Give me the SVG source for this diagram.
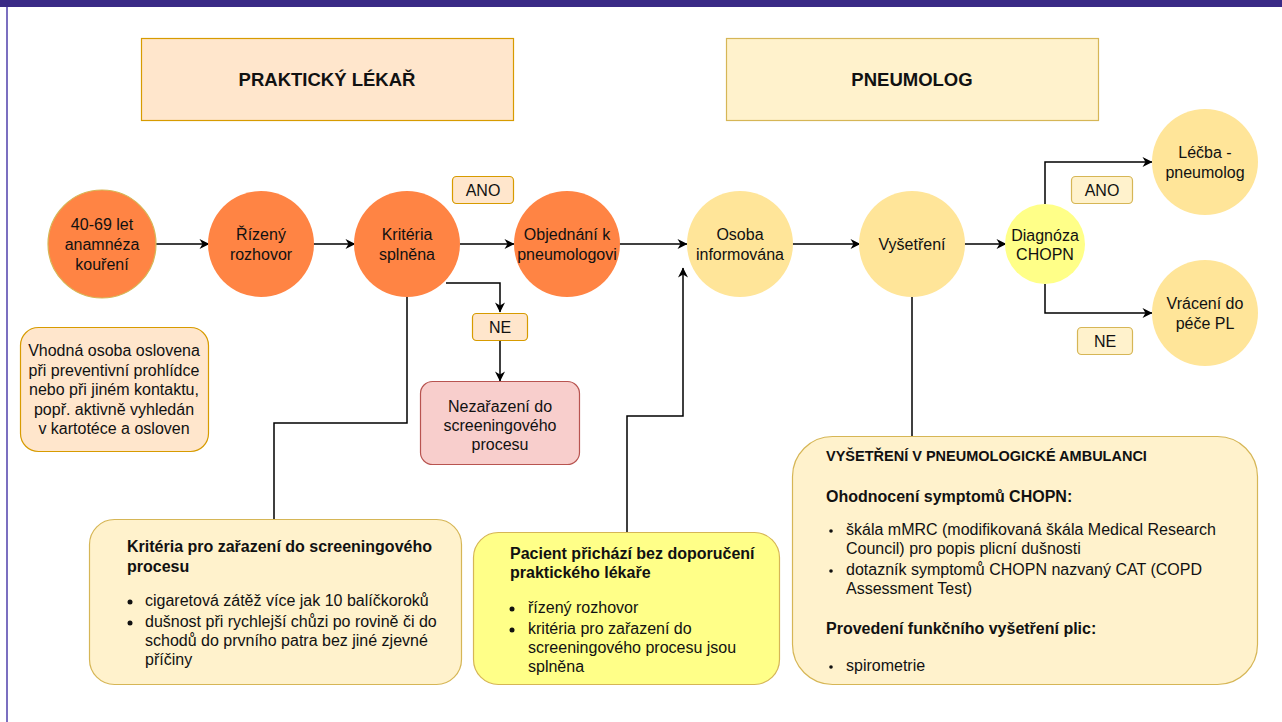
<svg xmlns="http://www.w3.org/2000/svg" width="1282" height="722" viewBox="0 0 1282 722">
<style>
text{font-family:"Liberation Sans",Arial,sans-serif;font-size:16px;fill:#111}
.c{text-anchor:middle}
.b{font-weight:bold}
.h{font-size:18.5px;font-weight:bold}
.or{fill:#ff8444}
.ye{fill:#ffe599}
.conn{fill:none;stroke:#000;stroke-width:1.5}
.lab1{fill:#ffe6cc;stroke:#d79b00;stroke-width:1.2}
.lab2{fill:#fff2cc;stroke:#d6b656;stroke-width:1.2}
</style>
<defs>
<marker id="ar" viewBox="0 0 10 10" refX="9.5" refY="5" markerWidth="11" markerHeight="10" markerUnits="userSpaceOnUse" orient="auto">
<path d="M0,0 L10,5 L0,10 L3,5 z" fill="#000"/>
</marker>
</defs>
<rect x="0" y="0" width="1282" height="722" fill="#fff"/>
<rect x="0" y="0" width="1282" height="7" fill="#3a2a86"/>
<line x1="7" y1="7" x2="7" y2="722" stroke="#7b6fc0" stroke-width="2"/>

<g id="hdr-pl">
<rect x="141.5" y="38.5" width="372" height="82" fill="#ffe6cc" stroke="#d79b00" stroke-width="1.2"/>
<text class="c h" x="327" y="86">PRAKTICKÝ LÉKAŘ</text>
</g>
<g id="hdr-pneumolog">
<rect x="726.5" y="38.5" width="372" height="82" fill="#fff2cc" stroke="#d6b656" stroke-width="1.2"/>
<text class="c h" x="912" y="86">PNEUMOLOG</text>
</g>

<g id="connectors">
<line class="conn" x1="156" y1="244" x2="209" y2="244" marker-end="url(#ar)"/>
<line class="conn" x1="313" y1="244" x2="355" y2="244" marker-end="url(#ar)"/>
<line class="conn" x1="460" y1="244" x2="514" y2="244" marker-end="url(#ar)"/>
<line class="conn" x1="619" y1="244" x2="687" y2="244" marker-end="url(#ar)"/>
<line class="conn" x1="792" y1="244" x2="860" y2="244" marker-end="url(#ar)"/>
<line class="conn" x1="964" y1="244" x2="1006" y2="244" marker-end="url(#ar)"/>
<polyline class="conn" points="1045,204 1045,162 1152,162" marker-end="url(#ar)"/>
<polyline class="conn" points="1045,284 1045,313 1152,313" marker-end="url(#ar)"/>
<polyline class="conn" points="446,283 500,283 500,312" marker-end="url(#ar)"/>
<line class="conn" x1="500" y1="340" x2="500" y2="381" marker-end="url(#ar)"/>
<polyline class="conn" points="407,296 407,423 274,423 274,519"/>
<polyline class="conn" points="627,532 627,416 683,416 683,268" marker-end="url(#ar)"/>
<line class="conn" x1="912" y1="296" x2="912" y2="436"/>
</g>

<g id="n-vek">
<circle cx="102" cy="244" r="54" class="or" stroke="#d6b656" stroke-width="1.2"/>
<text class="c" x="102" y="230">40-69 let</text>
<text class="c" x="102" y="250">anamnéza</text>
<text class="c" x="102" y="270">kouření</text>
</g>
<g id="n-rozhovor">
<circle cx="261" cy="244" r="53" class="or"/>
<text class="c" x="261" y="240">Řízený</text>
<text class="c" x="261" y="260">rozhovor</text>
</g>
<g id="n-kriteria">
<circle cx="407" cy="244" r="53" class="or"/>
<text class="c" x="407" y="240">Kritéria</text>
<text class="c" x="407" y="260">splněna</text>
</g>
<g id="n-objednani">
<circle cx="567" cy="244" r="53" class="or"/>
<text class="c" x="567" y="240">Objednání k</text>
<text class="c" x="567" y="260">pneumologovi</text>
</g>
<g id="n-osoba">
<circle cx="740" cy="244" r="53" class="ye"/>
<text class="c" x="740" y="240">Osoba</text>
<text class="c" x="740" y="260">informována</text>
</g>
<g id="n-vysetreni">
<circle cx="912" cy="244" r="53" class="ye"/>
<text class="c" x="912" y="250">Vyšetření</text>
</g>
<g id="n-diagnoza">
<circle cx="1045" cy="244" r="40" fill="#ffff88"/>
<text class="c" x="1045" y="241">Diagnóza</text>
<text class="c" x="1045" y="260">CHOPN</text>
</g>
<g id="n-lecba">
<circle cx="1205" cy="162" r="53" class="ye"/>
<text class="c" x="1205" y="158">Léčba -</text>
<text class="c" x="1205" y="178">pneumolog</text>
</g>
<g id="n-vraceni">
<circle cx="1205" cy="313" r="53" class="ye"/>
<text class="c" x="1205" y="309">Vrácení do</text>
<text class="c" x="1205" y="329">péče PL</text>
</g>

<g id="l-ano1">
<rect x="452.5" y="176.5" width="61" height="27" rx="4" class="lab1"/>
<text class="c" x="483" y="196">ANO</text>
</g>
<g id="l-ne1">
<rect x="472.5" y="313.5" width="55" height="27" rx="4" class="lab1"/>
<text class="c" x="500" y="333">NE</text>
</g>
<g id="l-ano2">
<rect x="1071.5" y="176.5" width="61" height="27" rx="4" class="lab2"/>
<text class="c" x="1102" y="196">ANO</text>
</g>
<g id="l-ne2">
<rect x="1077.5" y="327.5" width="55" height="27" rx="4" class="lab2"/>
<text class="c" x="1105" y="347">NE</text>
</g>

<g id="n-vhodna">
<rect x="20.5" y="327.5" width="188" height="124" rx="18" fill="#ffe6cc" stroke="#d79b00" stroke-width="1.2"/>
<text class="c" x="114" y="356">Vhodná osoba oslovena</text>
<text class="c" x="114" y="375.5">při preventivní prohlídce</text>
<text class="c" x="114" y="395">nebo při jiném kontaktu,</text>
<text class="c" x="114" y="414.5">popř. aktivně vyhledán</text>
<text class="c" x="114" y="434">v kartotéce a osloven</text>
</g>

<g id="n-nezarazeni">
<rect x="420.5" y="381.5" width="159" height="83" rx="12" fill="#f8cecc" stroke="#b85450" stroke-width="1.2"/>
<text class="c" x="500" y="412">Nezařazení do</text>
<text class="c" x="500" y="431">screeningového</text>
<text class="c" x="500" y="450">procesu</text>
</g>

<g id="n-kriteria-box">
<rect x="89.5" y="519.5" width="372" height="165" rx="25" fill="#fff2cc" stroke="#d6b656" stroke-width="1.2"/>
<text class="b" x="127" y="552">Kritéria pro zařazení do screeningového</text>
<text class="b" x="127" y="572">procesu</text>
<circle cx="130" cy="602" r="2.5" fill="#111"/>
<text x="145" y="606">cigaretová zátěž více jak 10 balíčkoroků</text>
<circle cx="130" cy="623" r="2.5" fill="#111"/>
<text x="145" y="627">dušnost při rychlejší chůzi po rovině či do</text>
<text x="145" y="646">schodů do prvního patra bez jiné zjevné</text>
<text x="145" y="665">příčiny</text>
</g>

<g id="n-pacient">
<rect x="473.5" y="532.5" width="306" height="152" rx="25" fill="#ffff88" stroke="#d6b656" stroke-width="1.2"/>
<text class="b" x="510" y="559">Pacient přichází bez doporučení</text>
<text class="b" x="510" y="578">praktického lékaře</text>
<circle cx="512" cy="609" r="2.5" fill="#111"/>
<text x="528" y="613">řízený rozhovor</text>
<circle cx="512" cy="630" r="2.5" fill="#111"/>
<text x="528" y="634">kritéria pro zařazení do</text>
<text x="528" y="653">screeningového procesu jsou</text>
<text x="528" y="672">splněna</text>
</g>

<g id="n-ambulance">
<rect x="792.5" y="436.5" width="465" height="248" rx="40" fill="#fff2cc" stroke="#d6b656" stroke-width="1.2"/>
<text class="b" x="826" y="461" style="font-size:14.5px">VYŠETŘENÍ V PNEUMOLOGICKÉ AMBULANCI</text>
<text class="b" x="826" y="502">Ohodnocení symptomů CHOPN:</text>
<circle cx="831" cy="531" r="1.8" fill="#111"/>
<text x="846" y="535">škála mMRC (modifikovaná škála Medical Research</text>
<text x="846" y="554">Council) pro popis plicní dušnosti</text>
<circle cx="831" cy="571" r="1.8" fill="#111"/>
<text x="846" y="575">dotazník symptomů CHOPN nazvaný CAT (COPD</text>
<text x="846" y="594">Assessment Test)</text>
<text class="b" x="826" y="634">Provedení funkčního vyšetření plic:</text>
<circle cx="831" cy="667" r="1.8" fill="#111"/>
<text x="846" y="671">spirometrie</text>
</g>
</svg>
